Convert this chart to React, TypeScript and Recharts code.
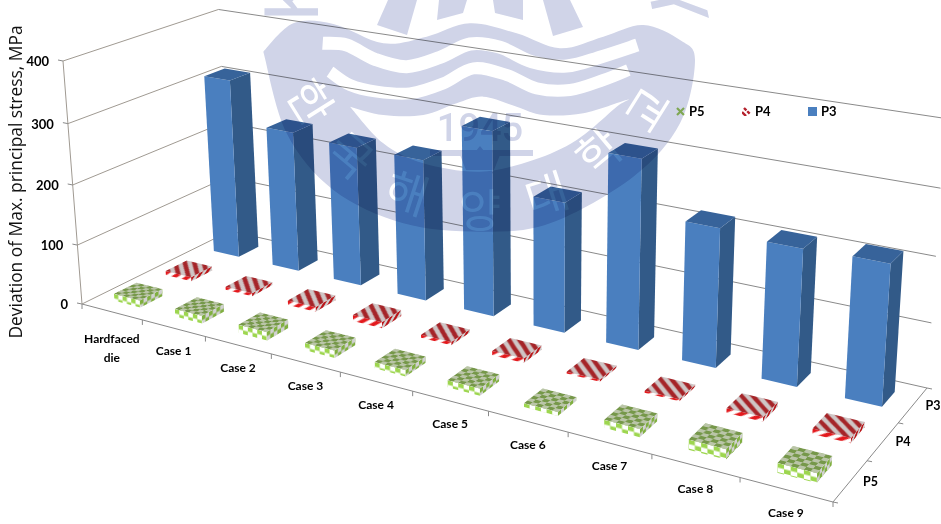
import React from 'react';
import { BarChart, Bar, XAxis, YAxis, CartesianGrid, Legend } from 'recharts';

// Chart values
const categories = ['Hardfaced die', 'Case 1', 'Case 2', 'Case 3', 'Case 4', 'Case 5', 'Case 6', 'Case 7', 'Case 8', 'Case 9'];
const p3Values = [310, 240, 235, 235, 302, 210, 300, 217, 210, 213];
const p4Values = [7, 5, 8, 10, 5, 7, 3, 3, 7, 8];
const p5Values = [12, 13, 14, 12, 10, 11, 6, 12, 15, 14];
const depthLabels = ['P5', 'P4', 'P3'];
const valueTicks = [0, 100, 200, 300, 400];

const data = categories.map((name, i) => ({ name, P3: p3Values[i], P4: p4Values[i], P5: p5Values[i] }));

// Flat plot frame that the library lays out; everything is then projected into the 3D box
const W = 941;
const H = 524;
const M = 20;
const PW = W - 2 * M;
const PH = H - 2 * M;
const PB = H - M;
const BAR_FRACTION = 0.43;
const BAR_SIZE = (PW / categories.length) * BAR_FRACTION;

type Pt = [number, number];

// Perspective camera for the box: floor corners plus the rise of the value axis
function camera(q: Pt[], top: Pt, r: number) {
  const [[x0, y0], [x1, y1], [x2, y2], [x3, y3]] = q;
  const dx1 = x1 - x2, dx2 = x3 - x2, sx = x0 - x1 + x2 - x3;
  const dy1 = y1 - y2, dy2 = y3 - y2, sy = y0 - y1 + y2 - y3;
  const den = dx1 * dy2 - dx2 * dy1;
  const g = (sx * dy2 - dx2 * sy) / den;
  const i = (dx1 * sy - sx * dy1) / den;
  const a = x1 - x0 + g * x1, b = x3 - x0 + i * x3;
  const d = y1 - y0 + g * y1, e = y3 - y0 + i * y3;
  const p = top[0] * (1 + r) - x0;
  const s = top[1] * (1 + r) - y0;
  // u: along the categories, w: depth (front to back), h: height as a share of the value axis
  return (u: number, w: number, h: number): Pt => {
    const k = g * u + i * w + 1 + r * h;
    return [(a * u + b * w + x0 + p * h) / k, (d * u + e * w + y0 + s * h) / k];
  };
}

const project = camera([[82, 304], [833, 502], [927, 388], [230, 231]], [63, 61], -0.04);

const pts = (list: Pt[]) => list.map((p) => `${p[0].toFixed(2)},${p[1].toFixed(2)}`).join(' ');
const seg = (a: Pt, b: Pt) => ({ x1: a[0], y1: a[1], x2: b[0], y2: b[1] });

const LABEL_FONT = 'Lato, "Liberation Sans", sans-serif';
const GRID = '#8a8a8a';

// Tile artwork, 10x10 units: the green checks and the red diagonal bands
const Checks = ({ fg, bg }: { fg: string; bg: string }) => (
  <>
    <rect width="10" height="10" fill={bg} />
    <rect width="5" height="5" fill={fg} />
    <rect x="5" y="5" width="5" height="5" fill={fg} />
  </>
);
const Bands = ({ fg, bg }: { fg: string; bg: string }) => (
  <>
    <rect width="10" height="10" fill={bg} />
    <polygon points="0,0 5,0 0,5" fill={fg} />
    <polygon points="10,0 10,5 5,10 0,10" fill={fg} />
  </>
);

function faceMatrix(a: Pt, b: Pt, c: Pt, nx: number, ny: number) {
  return `matrix(${(b[0] - a[0]) / (10 * nx)} ${(b[1] - a[1]) / (10 * nx)} ${(c[0] - a[0]) / (10 * ny)} ${(c[1] - a[1]) / (10 * ny)} ${a[0]} ${a[1]})`;
}

// A bar drawn as a box on its depth row
const boxShape = (row: number, kind: 'solid' | 'checks' | 'bands') => (props: any) => {
  const { x, y, width, index } = props;
  const u0 = (x - M) / PW;
  const u1 = (x + width - M) / PW;
  const h = (PB - y) / PH;
  const rowMid = (row + 0.5) / depthLabels.length;
  const half = BAR_FRACTION / depthLabels.length / 2;
  const w0 = rowMid - half;
  const w1 = rowMid + half;

  const fbl = project(u0, w0, 0), fbr = project(u1, w0, 0), ftr = project(u1, w0, h), ftl = project(u0, w0, h);
  const bbr = project(u1, w1, 0), btr = project(u1, w1, h), btl = project(u0, w1, h);
  const front = pts([fbl, fbr, ftr, ftl]);
  const side = pts([fbr, bbr, btr, ftr]);
  const top = pts([ftl, ftr, btr, btl]);

  if (kind === 'solid') {
    return (
      <g>
        <polygon points={side} fill="#325a88" />
        <polygon points={front} fill="#4a7fbf" />
        <polygon points={top} fill="#37639a" />
      </g>
    );
  }

  const id = `${kind}-${index}`;
  const Tile = kind === 'checks' ? Checks : Bands;
  const n = kind === 'checks' ? 3 : 2.5;
  const topColors = kind === 'checks' ? { fg: '#76984a', bg: '#bac5a8' } : { fg: '#a52428', bg: '#cfc6c6' };
  const sideColors = kind === 'checks' ? { fg: '#9dd64f', bg: '#ffffff' } : { fg: '#e3191d', bg: '#ffffff' };
  const down = (p: Pt): Pt => [p[0], p[1] + 9];
  const tile = (pid: string, m: string, c: { fg: string; bg: string }) => (
    <pattern id={pid} patternUnits="userSpaceOnUse" width="10" height="10" patternTransform={m}>
      <Tile fg={c.fg} bg={c.bg} />
    </pattern>
  );
  return (
    <g>
      <defs>
        {tile(`${id}-t`, faceMatrix(ftl, ftr, btl, n, n), topColors)}
        {tile(`${id}-f`, faceMatrix(ftl, ftr, down(ftl), n, 1), sideColors)}
        {tile(`${id}-s`, faceMatrix(ftr, btr, down(ftr), n, 1), sideColors)}
      </defs>
      <polygon points={side} fill={`url(#${id}-s)`} />
      <polygon points={side} fill="#000" fillOpacity={0.18} />
      <polygon points={front} fill={`url(#${id}-f)`} />
      <polygon points={top} fill={`url(#${id}-t)`} />
    </g>
  );
};

// Wall gridlines at each value tick; the zero tick also carries the floor outline and depth axis
const wallLine = (props: any) => {
  const h = (PB - props.y1) / PH;
  const key = `wall-${props.y1}`;
  const a = project(0, 0, h), d = project(0, 1, h), c = project(1, 1, h);
  const isFloor = Math.abs(h) < 1e-6;
  return (
    <g key={key} stroke={GRID} strokeWidth={1} fill="none">
      <line {...seg(a, d)} stroke="#a09a92" />
      <line {...seg(d, c)} />
      <line {...seg(a, [a[0] - 5, a[1] - 1])} />
      {isFloor && (
        <g>
          <line {...seg(a, project(1, 0, 0))} />
          <line {...seg(project(1, 0, 0), c)} />
          <line {...seg(a, project(0, 0, 1))} stroke="#a09a92" />
          {[0, 1, 2, 3].map((i) => {
            const p = project(1, i / depthLabels.length, 0);
            return <line key={i} {...seg(p, [p[0] + 5, p[1] + 1])} />;
          })}
          {depthLabels.map((label, i) => {
            const p = project(1, (i + 0.5) / depthLabels.length, 0);
            return (
              <text key={label} x={p[0] + 20} y={p[1] + 5} textAnchor="middle" stroke="none" fill="#000" fontFamily={LABEL_FONT} fontWeight={700} fontSize={12.5}>
                {label}
              </text>
            );
          })}
        </g>
      )}
    </g>
  );
};

const CategoryTick = (props: any) => {
  const u = (props.x - M) / PW;
  const step = 1 / categories.length;
  const [px, py] = project(u, 0, 0);
  const mark = project(u + step / 2, 0, 0);
  const first = project(u - step / 2, 0, 0);
  const label: string = props.payload.value;
  const lines = label.length > 8 ? label.split(' ') : [label];
  return (
    <g>
      <line {...seg(mark, [mark[0], mark[1] + 5])} stroke={GRID} />
      {props.index === 0 && <line {...seg(first, [first[0], first[1] + 5])} stroke={GRID} />}
      <text textAnchor="middle" fill="#000" fontFamily={LABEL_FONT} fontWeight={700} fontSize={12}>
        {lines.map((t, i) => (
          <tspan key={t} x={px} y={py + (lines.length > 1 ? 31 : 27) + i * 19}>
            {t}
          </tspan>
        ))}
      </text>
    </g>
  );
};

const ValueTick = (props: any) => {
  const h = (PB - props.y) / PH;
  const [px, py] = project(0, 0, h);
  return (
    <text x={px - 14} y={py + 5} textAnchor="end" fill="#000" fontFamily={LABEL_FONT} fontWeight={700} fontSize={13}>
      {props.payload.value}
    </text>
  );
};

const AxisTitle = () => (
  <text transform="translate(22,182) rotate(-90)" textAnchor="middle" fill="#111" fontFamily={'"Open Sans", sans-serif'} fontSize={17.4}>
    Deviation of Max. principal stress, MPa
  </text>
);

const legendSwatch: Record<string, React.ReactNode> = {
  P5: (
    <g stroke="#9bc95a" strokeWidth={2.2}>
      <line x1="1" y1="1" x2="8" y2="8" />
      <line x1="8" y1="1" x2="1" y2="8" />
    </g>
  ),
  P4: (
    <g stroke="#b3202c" strokeWidth={2.4}>
      <line x1="2" y1="1" x2="8" y2="7" strokeDasharray="3.4 1.2" />
      <line x1="0" y1="5" x2="4" y2="9" />
    </g>
  ),
  P3: <rect width="9" height="9" fill="#4a7fbf" />,
};

const LegendContent = (props: any) => {
  const entries = [...(props.payload || [])].reverse();
  return (
    <div style={{ display: 'flex', fontFamily: LABEL_FONT, fontWeight: 700, fontSize: 13, color: '#000' }}>
      {entries.map((e: any) => (
        <div key={e.value} style={{ width: 66, display: 'flex', alignItems: 'center', gap: 4 }}>
          <svg width="9" height="9">{legendSwatch[e.value]}</svg>
          <span>{e.value}</span>
        </div>
      ))}
    </div>
  );
};

// Smooth curve through a list of points given in 3x coordinates of the seal's box
function smooth(list: number[][]) {
  const p = list.map(([x, y]) => [250 + x / 3, y / 3]);
  let d = `M${p[0][0]} ${p[0][1]}`;
  for (let i = 0; i < p.length - 1; i++) {
    const a = p[Math.max(i - 1, 0)], b = p[i], c = p[i + 1], e = p[Math.min(i + 2, p.length - 1)];
    d += ` C${b[0] + (c[0] - a[0]) / 6} ${b[1] + (c[1] - a[1]) / 6} ${c[0] - (e[0] - b[0]) / 6} ${c[1] - (e[1] - b[1]) / 6} ${c[0]} ${c[1]}`;
  }
  return d;
}

const SEAL = '#d0d4e8';
const sealOutline = [[40, 155], [130, 70], [250, 72], [400, 130], [530, 110], [660, 70], [800, 100], [930, 145], [1060, 110], [1180, 75], [1290, 120], [1335, 180], [1290, 370], [1150, 530], [900, 670], [690, 695], [460, 670], [250, 570], [110, 400], [40, 155]];
const stripeOne = [[218, 130], [290, 135], [375, 178], [470, 200], [570, 172], [660, 132], [750, 142], [845, 185], [950, 198], [1055, 170], [1162, 135]];
const stripeTwo = [[240, 215], [300, 255], [380, 275], [480, 280], [580, 250], [670, 205], [770, 225], [860, 265], [960, 270], [1060, 240], [1135, 210]];
const innerField = [[300, 320], [400, 345], [520, 345], [620, 310], [700, 290], [800, 320], [880, 345], [1000, 340], [1130, 300], [1100, 320], [980, 420], [850, 480], [690, 515], [520, 490], [400, 430], [300, 320]];
const sealGlyphs: [string, number, number, number][] = [
  ['한', 313, 100, 58],
  ['국', 352, 153, 40],
  ['해', 408, 190, 18],
  ['양', 480, 207, 0],
  ['대', 546, 192, -18],
  ['학', 597, 150, -40],
  ['교', 645, 108, -58],
];

// University seal printed over the whole figure
const Seal = () => (
  <svg width={W} height={H} style={{ position: 'absolute', left: 0, top: 0, mixBlendMode: 'multiply', pointerEvents: 'none' }}>
    <path d={`${smooth(sealOutline)}Z`} fill={SEAL} />
    <polygon points="388,0 417,0 407,35 377,25" fill={SEAL} />
    <polygon points="439,0 467,0 463,13 437,20" fill={SEAL} />
    <polygon points="493,0 523,0 523,20 495,13" fill={SEAL} />
    <polygon points="543,0 570,0 583,27 553,36" fill={SEAL} />
    <path d={smooth(stripeOne)} fill="none" stroke="#fff" strokeWidth={13} />
    <path d={smooth(stripeTwo)} fill="none" stroke="#fff" strokeWidth={12} />
    <path d={`${smooth(innerField)}Z`} fill="#fff" />
    <text x={480} y={141} textAnchor="middle" fill={SEAL} fontFamily="Roboto, sans-serif" fontWeight={500} fontSize={38}>1945</text>
    <rect x={430} y={150} width={103} height={6} fill={SEAL} />
    <path d="M466 170 L458 150 L472 156 L480 146 L488 156 L502 150 L494 170 Z" fill={SEAL} />
    {sealGlyphs.map(([g, x, y, r]) => (
      <text key={`${g}${x}`} transform={`translate(${x},${y}) rotate(${r})`} textAnchor="middle" dominantBaseline="central" fill="#fff" fontFamily='"Noto Sans CJK KR", sans-serif' fontSize={46}>
        {g}
      </text>
    ))}
    <text transform="translate(318,22) rotate(-90)" fill={SEAL} fontFamily='"Liberation Sans", sans-serif' fontSize={78}>K</text>
    <text transform="translate(646,-20) rotate(78)" fill={SEAL} fontFamily='"Liberation Sans", sans-serif' fontSize={78}>Y</text>
  </svg>
);

export default function App() {
  return (
    <div style={{ position: 'absolute', left: 0, top: 0, width: W, height: H, overflow: 'hidden', background: '#fff' }}>
      <BarChart width={W} height={H} data={data} margin={{ top: M, right: M, bottom: 0, left: 0 }} barSize={BAR_SIZE} barGap={-BAR_SIZE}>
        <CartesianGrid vertical={false} horizontal={wallLine} />
        <XAxis dataKey="name" height={M} axisLine={false} tickLine={false} interval={0} tick={CategoryTick} />
        <YAxis width={M} domain={[0, 400]} ticks={valueTicks} axisLine={false} tickLine={false} tick={ValueTick} label={{ content: AxisTitle }} />
        <Legend
          layout="horizontal"
          verticalAlign="middle"
          align="center"
          content={LegendContent}
          wrapperStyle={{ position: 'absolute', left: 676, top: 103, width: 210, height: 16, margin: 0 }}
        />
        <Bar dataKey="P3" isAnimationActive={false} shape={boxShape(2, 'solid')} />
        <Bar dataKey="P4" isAnimationActive={false} shape={boxShape(1, 'bands')} />
        <Bar dataKey="P5" isAnimationActive={false} shape={boxShape(0, 'checks')} />
      </BarChart>
      <Seal />
    </div>
  );
}
